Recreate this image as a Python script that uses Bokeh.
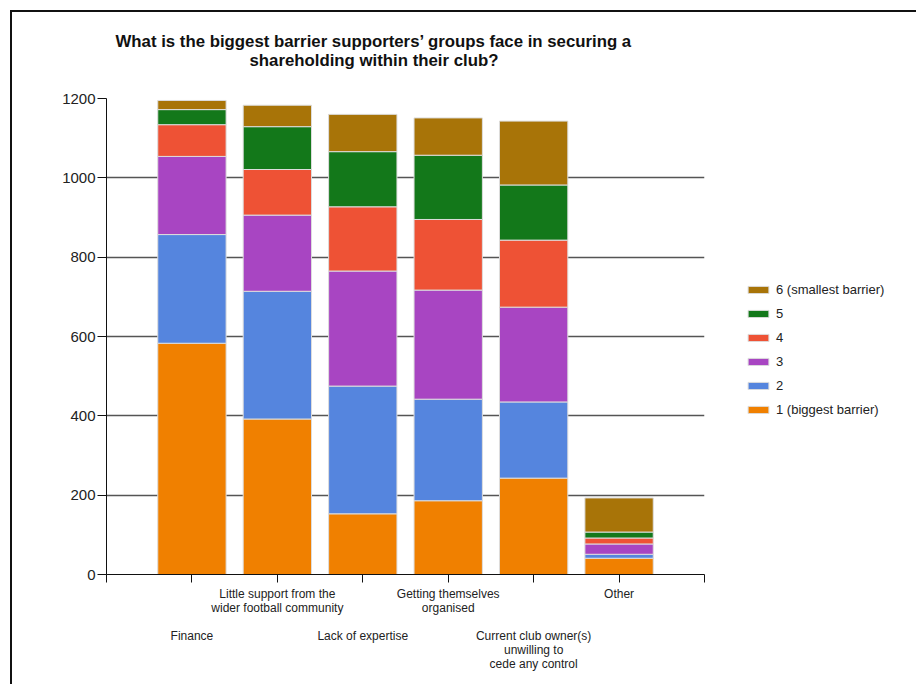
from bokeh.plotting import figure
from bokeh.models import (ColumnDataSource, Range1d, FixedTicker, LinearAxis,
                          Legend, LegendItem, Title)
from bokeh.embed import file_html
from bokeh.resources import INLINE

# ---- data ----
categories = [
    "Finance",
    "Little support from the\nwider football community",
    "Lack of expertise",
    "Getting themselves\norganised",
    "Current club owner(s)\nunwilling to\ncede any control",
    "Other",
]
series_names = ["1 (biggest barrier)", "2", "3", "4", "5", "6 (smallest barrier)"]
rank1 = [583, 392, 153, 186, 243, 41]
rank2 = [274, 322, 322, 256, 192, 10]
rank3 = [197, 192, 290, 275, 239, 26]
rank4 = [80, 115, 162, 178, 169, 15]
rank5 = [38, 108, 139, 162, 139, 15]
rank6 = [23, 54, 94, 94, 161, 86]
y_ticks = [0, 200, 400, 600, 800, 1000, 1200]
title_line1 = "What is the biggest barrier supporters\u2019 groups face in securing a"
title_line2 = "shareholding within their club?"

colors = ["#F08000", "#5585DE", "#A845C2", "#EE5235", "#13781A", "#A87408"]

positions = list(range(1, len(categories) + 1))
keys = ["r1", "r2", "r3", "r4", "r5", "r6"]
source = ColumnDataSource(dict(x=positions, r1=rank1, r2=rank2, r3=rank3,
                               r4=rank4, r5=rank5, r6=rank6))

FONT = "Liberation Sans"

p = figure(frame_width=598, frame_height=476,
           x_range=Range1d(0, len(categories) + 1), y_range=Range1d(0, 1200),
           output_backend="svg", toolbar_location=None,
           min_border_left=94, min_border_top=86,
           min_border_right=203, min_border_bottom=110)
p.outline_line_color = None
p.background_fill_color = "white"
p.border_fill_color = "white"
p.margin = (10, 0, 0, 10)
p.styles = {"border-top": "2px solid #111111", "border-left": "2px solid #111111"}

renderers = p.vbar_stack(keys, x="x", width=0.8, color=colors, source=source,
                         line_color="#DDDDDD", line_width=1)

# y axis
yax = p.yaxis[0]
yax.ticker = FixedTicker(ticks=y_ticks)
yax.minor_tick_line_color = None
yax.major_tick_in = 0
yax.major_tick_out = 9
yax.major_label_standoff = 2
yax.axis_line_color = "#111111"
yax.major_tick_line_color = "#111111"
yax.major_label_text_font = FONT
yax.major_label_text_font_size = "15px"
yax.major_label_text_color = "#222222"

p.ygrid.ticker = FixedTicker(ticks=y_ticks)
p.ygrid.grid_line_color = "#555555"
p.ygrid.grid_line_width = 1.5
p.xgrid.visible = False

# x axes: staggered labels
xticks = [0] + positions + [len(categories) + 1]
upper = {i + 1: (c if i % 2 == 1 else "") for i, c in enumerate(categories)}
upper[0] = ""
upper[len(categories) + 1] = ""
lower = {i + 1: (c if i % 2 == 0 else "") for i, c in enumerate(categories)}
lower[0] = ""
lower[len(categories) + 1] = ""

xax = p.xaxis[0]
xax.ticker = FixedTicker(ticks=xticks)
xax.major_label_overrides = upper
xax.minor_tick_line_color = None
xax.major_tick_in = 0
xax.major_tick_out = 8
xax.major_label_standoff = 4
xax.axis_line_color = "#111111"
xax.major_tick_line_color = "#111111"
xax.major_label_text_font = FONT
xax.major_label_text_font_size = "12px"
xax.major_label_text_color = "#222222"
xax.major_label_text_line_height = 1.0

xax2 = LinearAxis(ticker=FixedTicker(ticks=xticks), major_label_overrides=lower,
                  axis_line_color=None, major_tick_line_color=None,
                  minor_tick_line_color=None, major_tick_out=0, major_tick_in=0,
                  major_label_standoff=11,
                  major_label_text_font=FONT, major_label_text_font_size="12px",
                  major_label_text_color="#222222",
                  major_label_text_line_height=1.0)
p.add_layout(xax2, "below")

# titles
p.title.text = ""
t2 = Title(text=title_line2, align="left", offset=143, standoff=57,
           text_font=FONT, text_font_size="16.8px", text_font_style="bold",
           text_color="#111111")
t1 = Title(text=title_line1, align="left", offset=9, standoff=-61,
           text_font=FONT, text_font_size="16.8px", text_font_style="bold",
           text_color="#111111")
p.add_layout(t2, "above")
p.add_layout(t1, "above")

# legend (reverse order: 6 at top)
items = [LegendItem(label=series_names[i], renderers=[renderers[i]])
         for i in reversed(range(len(series_names)))]
legend = Legend(items=items, location=(41, 157), padding=0, margin=0,
                border_line_color=None, background_fill_alpha=0,
                glyph_width=26, glyph_height=9, label_height=13, spacing=9,
                label_standoff=5, label_text_font=FONT,
                label_text_font_size="13px", label_text_color="#222222")
p.add_layout(legend, "right")

open("out.html", "w").write(file_html(p, INLINE))
